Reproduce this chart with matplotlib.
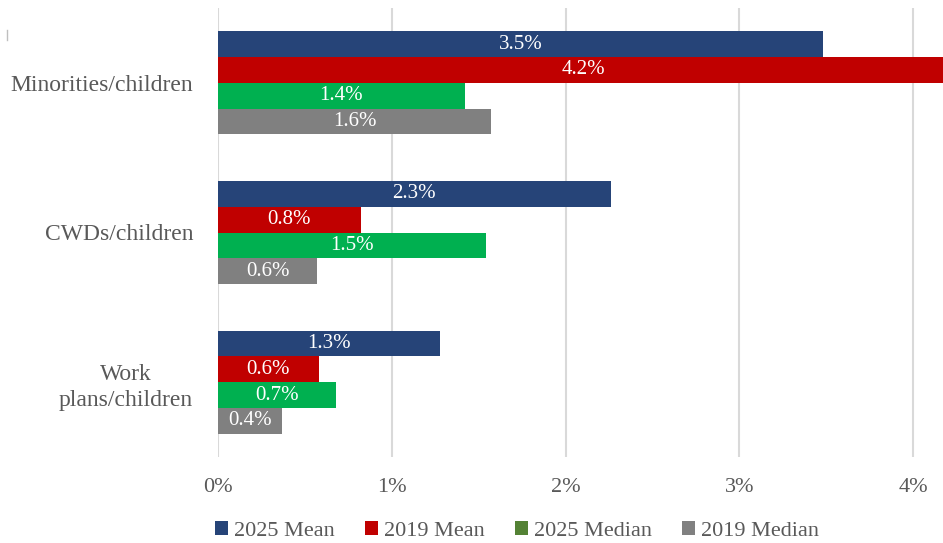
import matplotlib
matplotlib.use("Agg")
import matplotlib.pyplot as plt
import numpy as np
from matplotlib.patches import Patch
from matplotlib.lines import Line2D

categories = ["Minorities/children", "CWDs/children", "Work\nplans/children"]
series_names = ["2025 Mean", "2019 Mean", "2025 Median", "2019 Median"]
mean_2025 = [3.48, 2.26, 1.28]
mean_2019 = [4.20, 0.82, 0.58]
median_2025 = [1.42, 1.54, 0.68]
median_2019 = [1.57, 0.57, 0.37]
xticks = [0, 1, 2, 3, 4]
xtick_labels = ["0%", "1%", "2%", "3%", "4%"]

bar_colors = ["#264478", "#C00000", "#00B050", "#808080"]
legend_colors = ["#264478", "#C00000", "#548235", "#808080"]

plt.rcParams['font.family'] = ['Liberation Serif', 'DejaVu Serif']
text_color = "#595959"

fig = plt.figure(figsize=(9.43, 5.43), dpi=100)
ax = fig.add_axes([218/943, 1-457/543, 725/943, (457-8)/543])

series = [mean_2025, mean_2019, median_2025, median_2019]
y = np.arange(len(categories))
h = 0.172
for i, vals in enumerate(series):
    offs = (i - 1.5) * h
    ax.barh(y + offs, vals, height=h, color=bar_colors[i], zorder=3)
    for yy, v in zip(y + offs, vals):
        ax.text(v / 2, yy, f"{v:.1f}%", ha='center', va='center', color='white',
                fontsize=15, zorder=4, clip_on=False)

ax.set_ylim(2.5, -0.5)
ax.set_xlim(0, 725/173.8)
ax.set_xticks(xticks)
ax.set_xticklabels(xtick_labels)
ax.set_yticks(y)
ax.set_yticklabels(categories, multialignment='center', linespacing=1.35)
ax.tick_params(axis='both', length=0, colors=text_color)
ax.tick_params(axis='x', pad=15, labelsize=16)
ax.tick_params(axis='y', pad=18, labelsize=17)
ax.xaxis.grid(True, color="#D9D9D9", linewidth=1.5, zorder=0)
ax.set_axisbelow(True)
for s in ax.spines.values():
    s.set_visible(False)

handles = [Patch(facecolor=c, edgecolor='none') for c in legend_colors]
leg = fig.legend(handles, series_names, loc='center', bbox_to_anchor=(517/943, 1-531/543),
                 ncol=4, frameon=False, fontsize=16, handlelength=0.6, handleheight=0.6,
                 handletextpad=0.27, columnspacing=1.35, labelcolor=text_color,
                 borderpad=0, borderaxespad=0)

fig.add_artist(Line2D([7/943, 7/943], [1-30/543, 1-40/543], color="#BFBFBF", linewidth=1))

fig.savefig("out.png", dpi=100)
